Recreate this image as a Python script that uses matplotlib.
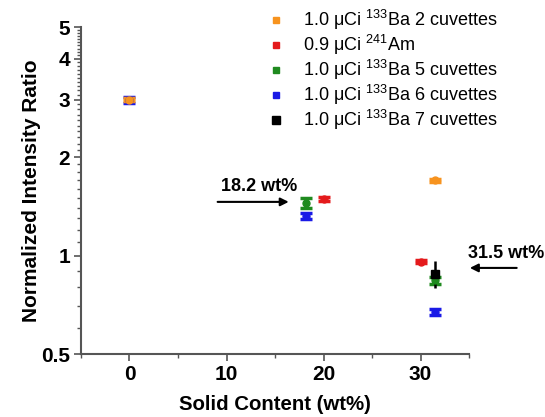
import numpy as np
import matplotlib
matplotlib.use("Agg")
import matplotlib.pyplot as plt
from matplotlib.ticker import FixedLocator, FixedFormatter, NullFormatter
from matplotlib.lines import Line2D

plt.rcParams['font.family'] = ['Liberation Sans', 'DejaVu Sans']
plt.rcParams['mathtext.fontset'] = 'custom'
plt.rcParams['mathtext.rm'] = 'Liberation Sans'

# series: x (wt%), y (normalized intensity ratio), error
ba2_x = [0, 31.5]
ba2_y = [3.0, 1.70]
ba2_err = [0.03, 0.02]

am_x = [20, 30]
am_y = [1.49, 0.957]
am_err = [0.02, 0.01]

ba5_x = [18.2, 31.5]
ba5_y = [1.45, 0.84]
ba5_err = [0.05, 0.02]

ba6_x = [0, 18.2, 31.5]
ba6_y = [3.0, 1.32, 0.674]
ba6_err = [0.06, 0.03, 0.015]

ba7_x = [31.5]
ba7_y = [0.88]
ba7_err = [0.085]

labels = ['1.0 μCi $^{133}$Ba 2 cuvettes', '0.9 μCi $^{241}$Am',
          '1.0 μCi $^{133}$Ba 5 cuvettes', '1.0 μCi $^{133}$Ba 6 cuvettes',
          '1.0 μCi $^{133}$Ba 7 cuvettes']
colors = ['#f7931e', '#e41a1c', '#1f8a1f', '#1a1ae6', '#000000']

fig = plt.figure(figsize=(5.45, 4.17), dpi=100)
ax = fig.add_axes([0.1486, 0.151, 0.712, 0.784])

series = [(ba6_x, ba6_y, ba6_err, colors[3]),
          (ba5_x, ba5_y, ba5_err, colors[2]),
          (ba7_x, ba7_y, ba7_err, colors[4]),
          (am_x, am_y, am_err, colors[1]),
          (ba2_x, ba2_y, ba2_err, colors[0])]
for x, y, e, c in series:
    if c == '#000000':
        ax.errorbar(x, y, yerr=e, fmt='s', color=c, ms=6, ecolor=c,
                    elinewidth=1.8, capsize=0)
    else:
        ax.errorbar(x, y, yerr=e, fmt='o', color=c, ms=5, ecolor=c,
                    elinewidth=2, capsize=4, capthick=2.5)

ax.set_yscale('log')
ax.set_ylim(0.5, 5)
ax.set_xlim(-5, 35)
ax.yaxis.set_major_locator(FixedLocator([0.5, 1, 2, 3, 4, 5]))
ax.yaxis.set_major_formatter(FixedFormatter(['0.5', '1', '2', '3', '4', '5']))
ax.yaxis.set_minor_locator(FixedLocator(np.arange(0.5, 5.0, 0.1)))
ax.yaxis.set_minor_formatter(NullFormatter())
ax.set_xticks([0, 10, 20, 30])
ax.set_xticks([-5, 5, 15, 25, 35], minor=True)

for s in ['top', 'right']:
    ax.spines[s].set_visible(False)
for s in ['left', 'bottom']:
    ax.spines[s].set_color('#555555')
    ax.spines[s].set_linewidth(1.5)
ax.tick_params(which='major', direction='out', length=5, width=1.2, color='#555555',
               labelsize=15, pad=3)
ax.tick_params(which='minor', direction='out', length=3, width=1, color='#555555')
for t in ax.get_xticklabels() + ax.get_yticklabels():
    t.set_fontweight('bold')

ax.set_xlabel('Solid Content (wt%)', fontsize=14.7, fontweight='bold', labelpad=8)
ax.set_ylabel('Normalized Intensity Ratio', fontsize=15, fontweight='bold', labelpad=0)

ax.annotate('', xy=(16.7, 1.46), xytext=(8.8, 1.46),
            arrowprops=dict(arrowstyle='-|>', color='black', lw=1.5,
                            mutation_scale=12))
ax.text(13.4, 1.53, '18.2 wt%', fontsize=13, fontweight='bold', ha='center', va='bottom')
ax.annotate('', xy=(34.8, 0.917), xytext=(40.2, 0.917), annotation_clip=False,
            arrowprops=dict(arrowstyle='-|>', color='black', lw=1.5,
                            mutation_scale=12))
ax.text(34.9, 0.955, '31.5 wt%', fontsize=13, fontweight='bold', ha='left', va='bottom')

handles = []
for i, c in enumerate(colors):
    ms = 6 if i == 4 else 4
    handles.append(Line2D([], [], ls='none', marker='s', color=c, ms=ms))
fig.legend(handles, labels, loc='upper left', bbox_to_anchor=(0.46, 1.02),
           frameon=False, fontsize=13, handlelength=1.0, handletextpad=1.0,
           labelspacing=0.05)

fig.savefig('out.png', dpi=100)
